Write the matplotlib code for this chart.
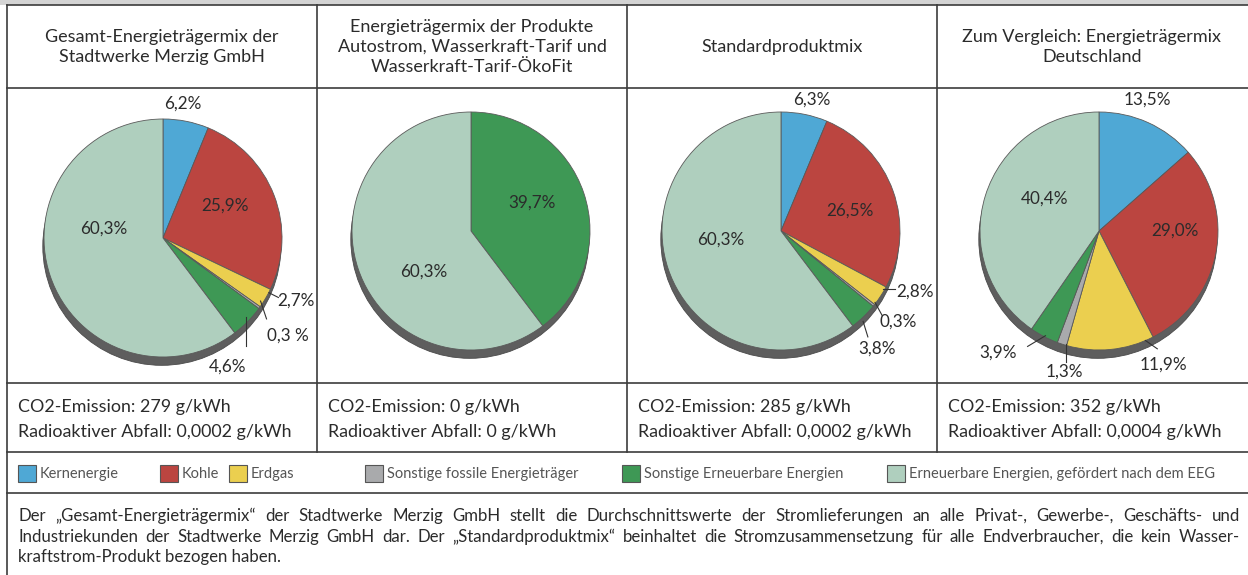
import numpy as np
import matplotlib
matplotlib.use('Agg')
import matplotlib.pyplot as plt
from matplotlib.patches import Circle, Rectangle

plt.rcParams['font.family'] = ['Lato', 'DejaVu Sans']

# --- Daten ---
categories = ['Kernenergie', 'Kohle', 'Erdgas', 'Sonstige fossile Energieträger',
              'Sonstige Erneuerbare Energien', 'Erneuerbare Energien, gefördert nach dem EEG']
colors = ['#4fa8d5', '#bb4540', '#ebcf4f', '#a9aaac', '#3e9855', '#afcfbe']

titles = ['Gesamt-Energieträgermix der\nStadtwerke Merzig GmbH',
          'Energieträgermix der Produkte\nAutostrom, Wasserkraft-Tarif und\nWasserkraft-Tarif-ÖkoFit',
          'Standardproduktmix',
          'Zum Vergleich: Energieträgermix\nDeutschland']

mix_gesamt = [6.2, 25.9, 2.7, 0.3, 4.6, 60.3]
mix_wasser = [0.0, 0.0, 0.0, 0.0, 39.7, 60.3]
mix_standard = [6.3, 26.5, 2.8, 0.3, 3.8, 60.3]
mix_deutschland = [13.5, 29.0, 11.9, 1.3, 3.9, 40.4]
mixes = [mix_gesamt, mix_wasser, mix_standard, mix_deutschland]

co2 = ['279', '0', '285', '352']
abfall = ['0,0002', '0', '0,0002', '0,0004']

footnote = [
    'Der „Gesamt-Energieträgermix“ der Stadtwerke Merzig GmbH stellt die Durchschnittswerte der Stromlieferungen an alle Privat-, Gewerbe-, Geschäfts- und',
    'Industriekunden der Stadtwerke Merzig GmbH dar. Der „Standardproduktmix“ beinhaltet die Stromzusammensetzung für alle Endverbraucher, die kein Wasser-',
    'kraftstrom-Produkt bezogen haben.',
]

# --- Layout (Pixel) ---
W, H = 1248, 575
col_x = [7, 317, 627, 937, 1248]
pie_centers = [(163, 238), (471, 231), (781, 231), (1099, 231)]
R = 119

# Beschriftungen: Position in Radius-Einheiten, ha, Leader (start, ende)
label_layout = [
    {0: ((0.17, 1.13), 'center', None),
     1: ((0.52, 0.27), 'center', None),
     2: ((0.96, -0.525), 'left', ((0.89, -0.46), (0.97, -0.50))),
     3: ((0.87, -0.82), 'left', ((0.82, -0.53), (0.87, -0.68))),
     4: ((0.54, -1.08), 'center', ((0.70, -0.66), (0.70, -0.91))),
     5: ((-0.50, 0.08), 'center', None)},
    {4: ((0.51, 0.24), 'center', None),
     5: ((-0.40, -0.34), 'center', None)},
    {0: ((0.26, 1.10), 'center', None),
     1: ((0.58, 0.17), 'center', None),
     2: ((0.97, -0.51), 'left', ((0.86, -0.49), (0.96, -0.49))),
     3: ((0.83, -0.76), 'left', ((0.79, -0.60), (0.85, -0.71))),
     4: ((0.81, -0.99), 'center', ((0.69, -0.76), (0.73, -0.89))),
     5: ((-0.51, -0.07), 'center', None)},
    {0: ((0.41, 1.10), 'center', None),
     1: ((0.64, 0.0), 'center', None),
     2: ((0.54, -1.12), 'center', ((0.39, -0.92), (0.49, -0.99))),
     3: ((-0.29, -1.18), 'center', ((-0.28, -0.95), (-0.28, -1.10))),
     4: ((-0.85, -1.02), 'center', ((-0.45, -0.88), (-0.60, -0.97))),
     5: ((-0.46, 0.27), 'center', None)},
]
special_labels = {(0, 3): '0,3 %'}

line_c = '#3c3c3c'
text_c = '#2b2b2b'

fig = plt.figure(figsize=(W / 100, H / 100), dpi=100)
bg = fig.add_axes([0, 0, 1, 1])
bg.set_xlim(0, W)
bg.set_ylim(H, 0)
bg.axis('off')

# Tabellenrahmen
bg.add_patch(Rectangle((0, 0), W, 5, color='#d4d4d4', lw=0))
for y in [5, 88, 383, 452, 493]:
    bg.plot([col_x[0], W], [y, y], color=line_c, lw=1.2)
bg.plot([col_x[0], col_x[0]], [5, H], color=line_c, lw=1.2)
for x in col_x[1:4]:
    bg.plot([x, x], [5, 452], color=line_c, lw=1.2)

for i in range(4):
    cx = (col_x[i] + col_x[i + 1]) / 2 if i < 3 else 1092
    bg.text(cx, 47, titles[i], ha='center', va='center', fontsize=13,
            color=text_c, linespacing=1.3)
    bg.text(col_x[i] + 11, 407, f'CO2-Emission: {co2[i]} g/kWh', ha='left',
            va='center', fontsize=12.9, color=text_c)
    bg.text(col_x[i] + 11, 432, f'Radioaktiver Abfall: {abfall[i]} g/kWh', ha='left',
            va='center', fontsize=12.9, color=text_c)

# Legende
legend_x = [18, 160, 229, 365, 622, 887]
for xx, cat, c in zip(legend_x, categories, colors):
    bg.add_patch(Rectangle((xx, 465), 18, 17, facecolor=c, edgecolor='#555555', lw=0.8))
    bg.text(xx + 22, 474, cat, ha='left', va='center', fontsize=10.5,
            color='#555555', fontstretch='condensed')

# Fussnote (Blocksatz)
fig.canvas.draw()
renderer = fig.canvas.get_renderer()
fn_y = [516, 537, 557]
fn_size = 12.1
for k, line in enumerate(footnote):
    words = line.split(' ')
    if k == len(footnote) - 1:
        bg.text(18, fn_y[k], line, ha='left', va='center', fontsize=fn_size, color=text_c)
        continue
    arts = [bg.text(0, fn_y[k], w, ha='left', va='center', fontsize=fn_size, color=text_c)
            for w in words]
    widths = [a.get_window_extent(renderer).width for a in arts]
    gap = (1240 - 18 - sum(widths)) / (len(words) - 1)
    x = 18
    for a, w in zip(arts, widths):
        a.set_x(x)
        x += w + gap

# Kreisdiagramme
half = 150
for i, (mix, (cx, cy)) in enumerate(zip(mixes, pie_centers)):
    ax = fig.add_axes([(cx - half) / W, 1 - (cy + half) / H, 2 * half / W, 2 * half / H])
    idx = [j for j, v in enumerate(mix) if v > 0]
    vals = [mix[j] for j in idx]
    cols = [colors[j] for j in idx]
    ax.add_patch(Circle((-0.01, -0.07), 1.0, facecolor='#5e5e5e', edgecolor='#4a4a4a',
                        lw=0.6, zorder=0))
    wedges, _ = ax.pie(vals, colors=cols, startangle=90, counterclock=False, radius=1.0,
                       wedgeprops=dict(edgecolor='#5a5a5a', linewidth=0.6))
    for w in wedges:
        w.set_zorder(1)
    for j in idx:
        (lx, ly), ha, leader = label_layout[i][j]
        txt = special_labels.get((i, j), f'{mix[j]:.1f}%'.replace('.', ','))
        ax.text(lx, ly, txt, ha=ha, va='center', fontsize=12.3, color=text_c, zorder=5)
        if leader is not None:
            (sx, sy), (ex, ey) = leader
            ax.plot([sx, ex], [sy, ey], color='#333333', lw=0.8, zorder=4)
    ax.set_xlim(-half / R, half / R)
    ax.set_ylim(-half / R, half / R)
    ax.set_aspect('equal')
    ax.axis('off')

fig.savefig('out.png', dpi=100)
